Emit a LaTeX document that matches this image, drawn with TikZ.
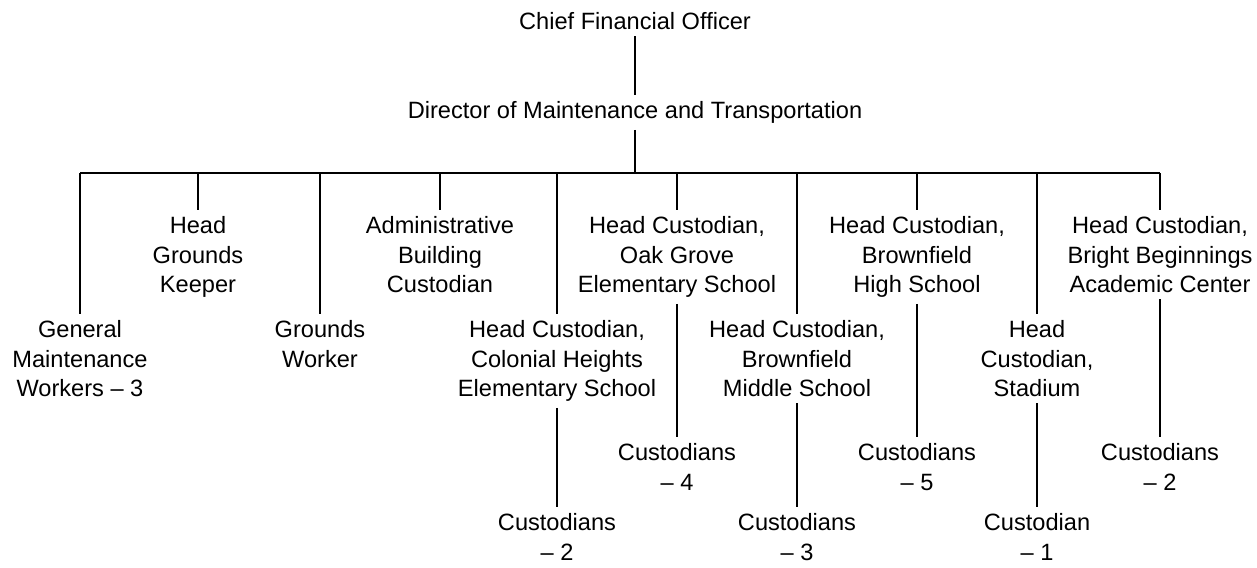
\documentclass[tikz,border=0pt]{standalone}
\usepackage{fontspec}
\setmainfont{Liberation Sans}
\usepackage{tikz}
\usetikzlibrary{positioning}

\tikzset{
  role/.style={align=center, anchor=north, inner sep=3pt,
    font=\fontsize{11.8pt}{14.75pt}\selectfont},
  link/.style={line width=0.6pt}
}

\begin{document}
\begin{tikzpicture}[x=0.5pt, y=-0.5pt]
    \useasboundingbox (0,0) rectangle (1257,567);

    \node [role] (cfo) at (635,6) {Chief Financial Officer};
    \node [role] (dir) at (635,95) {Director of Maintenance and Transportation};
    \coordinate (bar) at (635,173);

    % heads, upper and lower rows
    \node [role] (gmw) at (80,314) {General\\Maintenance\\Workers – 3};
    \node [role] (hgk) at (198,210) {Head\\Grounds\\Keeper};
    \node [role] (gw) at (320,314) {Grounds\\Worker};
    \node [role] (abc) at (440,210) {Administrative\\Building\\Custodian};
    \node [role] (chs) at (557,314) {Head Custodian,\\Colonial Heights\\Elementary School};
    \node [role] (ogs) at (677,210) {Head Custodian,\\Oak Grove\\Elementary School};
    \node [role] (bms) at (797,314) {Head Custodian,\\Brownfield\\Middle School};
    \node [role] (bhs) at (917,210) {Head Custodian,\\Brownfield\\High School};
    \node [role] (stad) at (1037,314) {Head\\Custodian,\\Stadium};
    \node [role] (bba) at (1160,210) {Head Custodian,\\Bright Beginnings\\Academic Center};

    % custodians
    \node [role] (chsc) at (557,507) {Custodians\\– 2};
    \node [role] (ogsc) at (677,437) {Custodians\\– 4};
    \node [role] (bmsc) at (797,507) {Custodians\\– 3};
    \node [role] (bhsc) at (917,437) {Custodians\\– 5};
    \node [role] (stadc) at (1037,507) {Custodian\\– 1};
    \node [role] (bbac) at (1160,437) {Custodians\\– 2};

    \draw [link] (cfo) -- (dir);
    \draw [link] (dir) -- (bar);
    \draw [link] (gmw.north |- bar) -- (bba.north |- bar);
    \foreach \h in {gmw,hgk,gw,abc,chs,ogs,bms,bhs,stad,bba}
      \draw [link] (\h.north |- bar) -- (\h.north);
    \foreach \h/\c in {chs/chsc,ogs/ogsc,bms/bmsc,bhs/bhsc,stad/stadc,bba/bbac}
      \draw [link] (\h) -- (\c);
  \end{tikzpicture}
\end{document}
